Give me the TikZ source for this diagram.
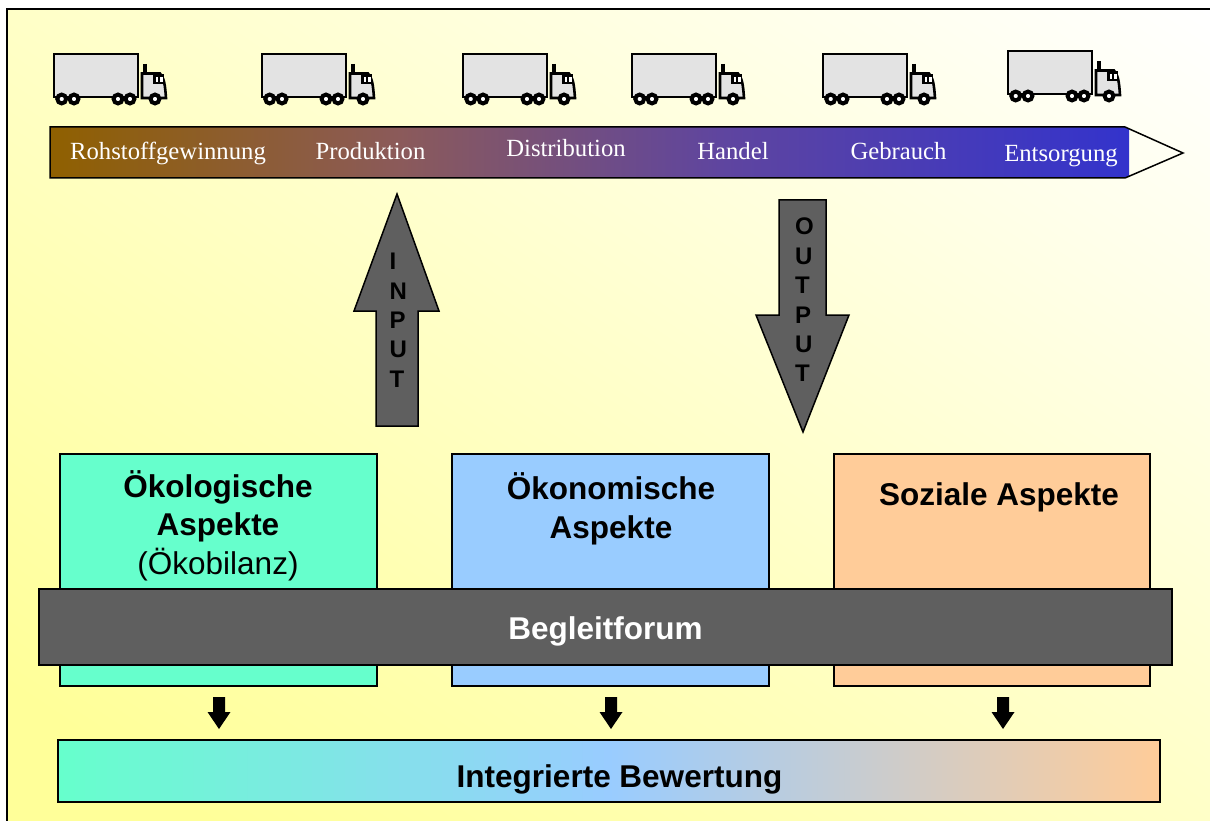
\documentclass[tikz,border=0pt]{standalone}
\usepackage{fontspec}
\setmainfont{Liberation Serif}
\newfontfamily\arialf{Liberation Sans}
\definecolor{bgyellow}{HTML}{FFFF99}
\definecolor{bgwhite}{HTML}{FFFFFF}
\definecolor{greenbox}{HTML}{66FFCC}
\definecolor{bluebox}{HTML}{99CCFF}
\definecolor{orangebox}{HTML}{FFCC99}
\definecolor{darkbar}{HTML}{5F5F5F}
\definecolor{truckgrey}{HTML}{E3E3E3}
\definecolor{chaina}{HTML}{8F6000}
\definecolor{chainb}{HTML}{8B5A5A}
\definecolor{chainc}{HTML}{5F459F}
\definecolor{chaind}{HTML}{3333CC}
\pgfdeclarehorizontalshading{chainshade}{100bp}{color(0bp)=(chaina); color(25bp)=(chaina); color(41.2bp)=(chainb); color(56bp)=(chainc); color(75bp)=(chaind); color(100bp)=(chaind)}
\tikzset{
  aspectbox/.style={draw=black,line width=1.5pt,rectangle,anchor=north west,inner sep=0pt,outer sep=0pt},
  headtxt/.style={font=\arialf\bfseries\fontsize{31.5}{37}\selectfont,text=black,anchor=base,inner sep=0pt},
  plaintxt/.style={font=\arialf\fontsize{31.5}{37}\selectfont,text=black,anchor=base,inner sep=0pt},
  stagetxt/.style={font=\fontsize{24.7}{28}\selectfont,text=white,anchor=base,inner sep=0pt},
  blockarrow/.style={draw=black,line width=1.5pt,fill=darkbar},
  lettertxt/.style={font=\arialf\bfseries\fontsize{24}{29.4}\selectfont,text=black,align=left,anchor=north west,inner sep=0pt},
  truck/.pic={
    \draw[line width=2.6pt,fill=truckgrey] (0,0) rectangle (84,43);
    \draw[line width=4pt] (91,10) -- (91,20);
    \draw[line width=2.6pt,fill=truckgrey] (88,19.5) -- (106,19.5) .. controls (110,24) and (111,30) .. (112,44) -- (88,44) -- cycle;
    \fill[black] (99,20) rectangle (110,30);
    \fill[white] (101.5,23) rectangle (104,28);
    \fill[white] (106,23) rectangle (108.5,28);
    \foreach \wx in {7.7,20,64,76,101}{
      \draw[line width=4pt,fill=white] (\wx,45) circle (4.4pt);
    }
  },
  smallarrow/.pic={
    \fill[black] (-6,0) -- (6,0) -- (6,15) -- (11.5,15) -- (0,32) -- (-11.5,15) -- (-6,15) -- cycle;
  }
}
\begin{document}
\begin{tikzpicture}[x=1pt,y=-1pt]
\useasboundingbox (0,0) rectangle (1210,821);
\fill[white] (0,0) rectangle (1210,821);
% background
\begin{scope}
  \clip (7,9) rectangle (1210,821);
  \begin{scope}[transform canvas={shift={(608.5pt,-415pt)},rotate=-34}]
    \fill[bgyellow] (-1000pt,-672pt) rectangle (1000pt,-559pt);
    \shade[bottom color=bgyellow,top color=bgwhite] (-1000pt,-560pt) rectangle (1000pt,672pt);
  \end{scope}
\end{scope}
\draw[line width=1.5pt] (7,821) -- (7,9) -- (1210,9);
% trucks
\pic at (54,54) {truck};
\pic at (262,54) {truck};
\pic at (463,54) {truck};
\pic at (632,54) {truck};
\pic at (823,54) {truck};
\pic at (1008,51) {truck};
% chain arrow
\begin{scope}
  \clip (50,127) -- (1125,127) -- (1183,153) -- (1125,178) -- (50,178) -- cycle;
  \shade[shading=chainshade,shading angle=0] (50,127) rectangle (1129,178);
\end{scope}
\draw[line width=1.5pt] (50,127) -- (1125,127) -- (1183,153) -- (1125,178) -- (50,178) -- cycle;
\node[stagetxt] (roh) at (168,160) {Rohstoffgewinnung};
\node[stagetxt] (pro) at (370.5,160) {Produktion};
\node[stagetxt] (dis) at (566,157) {Distribution};
\node[stagetxt] (han) at (733,160) {Handel};
\node[stagetxt] (geb) at (898.5,160) {Gebrauch};
\node[stagetxt] (ent) at (1061,162) {Entsorgung};
% input/output
\draw[blockarrow] (397,194) -- (439,311) -- (418,311) -- (418,426) -- (376,426) -- (376,311) -- (354,311) -- cycle;
\node[lettertxt] (input) at (389.5,253) {I\\N\\P\\U\\T};
\draw[blockarrow] (779,200) -- (826,200) -- (826,315) -- (849,315) -- (803,432) -- (756,315) -- (779,315) -- cycle;
\node[lettertxt] (output) at (795,218) {O\\U\\T\\P\\U\\T};
% aspect boxes
\node[aspectbox,fill=greenbox,minimum width=317pt,minimum height=232pt] (oeko) at (60,454) {};
\node[aspectbox,fill=bluebox,minimum width=317pt,minimum height=232pt] (oekn) at (452,454) {};
\node[aspectbox,fill=orangebox,minimum width=316pt,minimum height=232pt] (soz) at (834,454) {};
\node[headtxt] (t1) at (218,497) {Ökologische};
\node[headtxt] (t2) at (218,535) {Aspekte};
\node[plaintxt] (t3) at (218,574) {(Ökobilanz)};
\node[headtxt] (t4) at (611,499) {Ökonomische};
\node[headtxt] (t5) at (611,538) {Aspekte};
\node[headtxt] (t6) at (999,505) {Soziale Aspekte};
% forum
\node[aspectbox,fill=darkbar,minimum width=1133pt,minimum height=76pt] (forum) at (39,589) {};
\node[headtxt,text=white] (t7) at (605.5,639) {Begleitforum};
% small arrows
\pic at (219,697) {smallarrow};
\pic at (611,697) {smallarrow};
\pic at (1003,697) {smallarrow};
% integrated
\node[aspectbox,left color=greenbox,right color=orangebox,middle color=bluebox,minimum width=1102pt,minimum height=62pt] (integ) at (58,740) {};
\node[headtxt] (t8) at (619.5,787) {Integrierte Bewertung};
\end{tikzpicture}
\end{document}
